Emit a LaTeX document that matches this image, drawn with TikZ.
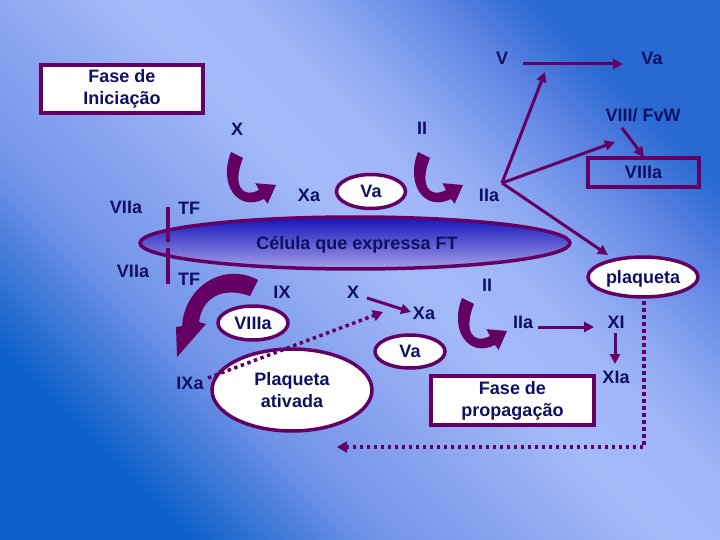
\documentclass[tikz,border=0pt]{standalone}
\usepackage{fontspec}
\setmainfont{Liberation Sans}
\usetikzlibrary{arrows.meta,shapes.geometric}
\definecolor{pur}{RGB}{100,0,100}
\definecolor{navy}{RGB}{15,15,100}
\definecolor{celtop}{RGB}{20,20,185}
\definecolor{celbot}{RGB}{165,160,232}
\definecolor{bga}{RGB}{10,95,200}
\definecolor{bgb}{RGB}{60,120,215}
\definecolor{bgc}{RGB}{115,148,232}
\definecolor{bgd}{RGB}{145,170,242}
\definecolor{bge}{RGB}{163,185,248}
\definecolor{bgf}{RGB}{160,182,247}
\definecolor{bgg}{RGB}{138,166,241}
\definecolor{bgh}{RGB}{90,130,225}
\definecolor{bgi}{RGB}{40,105,210}
\pgfdeclareverticalshading{bgshade}{100bp}{color(0bp)=(bga); color(25bp)=(bga); color(30bp)=(bgb); color(36bp)=(bgc); color(46bp)=(bgd); color(52bp)=(bge); color(58bp)=(bgf); color(63bp)=(bgg); color(70bp)=(bgh); color(75bp)=(bgi); color(100bp)=(bgi)}
\begin{document}
\begin{tikzpicture}[x=1pt,y=-1pt,
  txt/.style={text=navy,font=\fontsize{18}{22}\selectfont\bfseries},
  lbl/.style={txt,inner sep=0pt,text height=12.9pt,text depth=0pt},
  wbox/.style={txt,rectangle,draw=pur,line width=4pt,fill=white,align=center,inner sep=0pt},
  oval/.style={txt,ellipse,draw=pur,line width=3.5pt,fill=white,inner sep=0pt},
  conn/.style={draw=pur,line width=3pt,-{Triangle[length=10pt,width=10pt]}},
  dots/.style={draw=pur,line width=3.5pt,dash pattern=on 3.5pt off 3.5pt},
  dotarrow/.style={dots,-{Triangle[length=10pt,width=11pt]}},
  hook/.pic={\fill[pur] (0,0) -- (12,6) .. controls (1,33) and (11,47) .. (28,38)
      -- (24.4,31.2) -- (45,33) -- (36.6,51.8) -- (33,47)
      .. controls (7,60) and (-13,33) .. (0,0) -- cycle;}
]
\useasboundingbox (0,0) rectangle (720,540);
\shade[shading=bgshade,shading angle=-45] (0,0) rectangle (720,540);

% cell
\node[ellipse,draw=pur,line width=3.5pt,top color=celtop,bottom color=celbot,minimum width=430pt,minimum height=52pt,inner sep=0pt] (cell) at (355,243) {};
\node[lbl] (celltxt) at (357,243) {Célula que expressa FT};
\coordinate (tfa) at (168,207); \coordinate (tfb) at (168,242);
\coordinate (tfc) at (168,248); \coordinate (tfd) at (168,284);
\draw[pur,line width=3.5pt] (tfa) -- (tfb) (tfc) -- (tfd);

% boxes
\node[wbox,minimum width=162pt,minimum height=48pt] (ini) at (122,89) {Fase de\\Iniciação};
\node[wbox,minimum width=163pt,minimum height=49pt] (prop) at (512.5,400.5) {Fase de\\propagação};
\node[txt,rectangle,draw=pur,line width=4pt,minimum width=111pt,minimum height=29pt,inner sep=0pt] (viiiabox) at (643.5,172.5) {VIIIa};

% ovals
\node[oval,minimum width=69pt,minimum height=34pt,text height=12.9pt,text depth=0pt] (vaA) at (371,191.5) {Va};
\node[oval,minimum width=70pt,minimum height=34pt,text height=12.9pt,text depth=0pt] (viiiaov) at (253,323) {VIIIa};
\node[oval,minimum width=160pt,minimum height=82pt,align=center] (plat) at (292,390) {Plaqueta\\ativada};
\node[oval,minimum width=70pt,minimum height=33pt,text height=12.9pt,text depth=0pt] (vaB) at (410,351.5) {Va};
\node[oval,minimum width=110pt,minimum height=40pt,text height=12.9pt,text depth=0pt] (plaq) at (643,277) {plaqueta};

% labels
\node[lbl] (V) at (502,58) {V};
\node[lbl] (VaT) at (652,58) {Va};
\node[lbl] (fvw) at (643,115) {VIII/ FvW};
\node[lbl] (X1) at (237,129) {X};
\node[lbl] (II1) at (422,128) {II};
\node[lbl] (Xa1) at (309,195) {Xa};
\node[lbl] (IIa1) at (489,195) {IIa};
\node[lbl] (VIIa1) at (126,207) {VIIa};
\node[lbl] (TF1) at (189,208) {TF};
\node[lbl] (VIIa2) at (133,271) {VIIa};
\node[lbl] (TF2) at (189,279) {TF};
\node[lbl] (IX) at (282,292) {IX};
\node[lbl] (X2) at (353,292) {X};
\node[lbl] (Xa2) at (424,313) {Xa};
\node[lbl] (IXa) at (190,383) {IXa};
\node[lbl] (II2) at (487,285) {II};
\node[lbl] (IIa2) at (523,322) {IIa};
\node[lbl] (XI) at (616,322) {XI};
\node[lbl] (XIa) at (616,377) {XIa};

% straight connectors
\coordinate (vS) at (523,64); \coordinate (vE) at (623,64);
\draw[conn] (vS) -- (vE);
\coordinate (iiaO) at (502,183);
\coordinate (upT) at (545,72);
\coordinate (midT) at (615,142);
\coordinate (plT) at (608,255);
\draw[conn] (iiaO) -- (upT);
\draw[conn] (iiaO) -- (midT);
\draw[conn] (iiaO) -- (plT);
\coordinate (fvwS) at (622,128); \coordinate (fvwE) at (644,157);
\draw[conn] (fvwS) -- (fvwE);
\coordinate (xS) at (367,298); \coordinate (xE) at (411,312);
\draw[conn] (xS) -- (xE);
\coordinate (iiaS) at (538,327); \coordinate (iiaE) at (594,327);
\draw[conn] (iiaS) -- (iiaE);
\coordinate (xiS) at (615,333); \coordinate (xiE) at (615,364);
\draw[conn] (xiS) -- (xiE);

% dotted connectors
\coordinate (ixaS) at (208,378); \coordinate (ixaE) at (383,312);
\draw[dotarrow] (ixaS) -- (ixaE);
\coordinate (plS) at (644,301); \coordinate (plC) at (644,447); \coordinate (plE) at (337,447);
\draw[dotarrow] (plS) -- (plC) -- (plE);

% curved thick arrows
\pic at (231,152) {hook};
\pic at (418,152) {hook};
\pic at (462,298) {hook};
\fill[pur] (258,280) -- (250,296) .. controls (222,286) and (202,298) .. (199,322)
  -- (206,324) -- (177,357) -- (176,327) -- (182,326)
  .. controls (185,285) and (225,262) .. (258,280) -- cycle;
\end{tikzpicture}
\end{document}
